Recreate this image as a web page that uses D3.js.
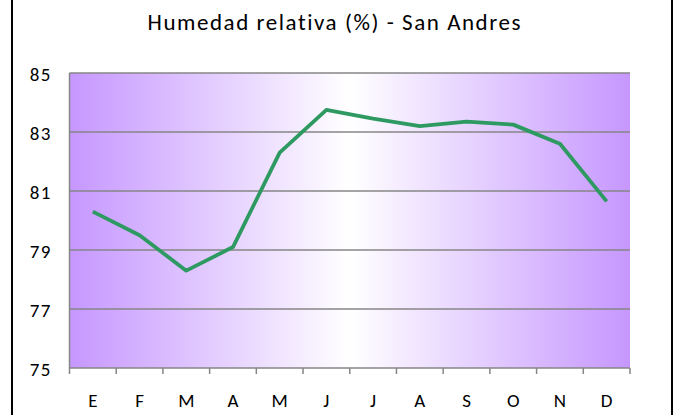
<!DOCTYPE html>
<html><head><meta charset="utf-8">
<script src="https://cdn.jsdelivr.net/npm/d3@7"></script>
<style>body{margin:0;background:#fff}svg{display:block}text{font-variant-ligatures:none;font-feature-settings:"liga" 0}</style>
</head><body>
<script>
const months = ["E","F","M","A","M","J","J","A","S","O","N","D"];
const humidity = [80.3, 79.5, 78.3, 79.1, 82.3, 83.75, 83.45, 83.2, 83.35, 83.25, 82.6, 80.65];
const yTicks = [75, 77, 79, 81, 83, 85];
const title = "Humedad relativa (%) - San Andres";

const W = 683, H = 415;
const m = {left: 69.5, right: 53, top: 73, bottom: 47};
const svg = d3.select("body").append("svg").attr("width", W).attr("height", H);
const font = "Calibri, Carlito, 'Open Sans', sans-serif";

const x = d3.scaleBand().domain(d3.range(months.length)).range([m.left, W - m.right]);
const y = d3.scaleLinear().domain([75, 85]).range([H - m.bottom, m.top]);

const defs = svg.append("defs");
const g = defs.append("linearGradient").attr("id","bg").attr("x1","0").attr("x2","1").attr("y1","0").attr("y2","0");
[[0,"#c697ff"],[0.5,"#ffffff"],[1,"#c697ff"]].forEach(([o,c]) => g.append("stop").attr("offset",o).attr("stop-color",c));

svg.append("line").attr("x1",12).attr("x2",12).attr("y1",0).attr("y2",H).attr("stroke","#000").attr("stroke-width",2);
svg.append("line").attr("x1",672).attr("x2",672).attr("y1",0).attr("y2",H).attr("stroke","#000").attr("stroke-width",2);

svg.append("rect").attr("x", m.left).attr("y", m.top)
  .attr("width", W - m.right - m.left).attr("height", H - m.bottom - m.top)
  .attr("fill","url(#bg)");

svg.append("g").selectAll("line").data(yTicks).join("line")
  .attr("x1", m.left).attr("x2", W - m.right)
  .attr("y1", d => y(d)).attr("y2", d => y(d))
  .attr("stroke","#868686").attr("stroke-width",1.5);

svg.append("line").attr("x1", m.left).attr("x2", m.left).attr("y1", m.top).attr("y2", H - m.bottom)
  .attr("stroke","#868686").attr("stroke-width",1.5);

svg.append("g").selectAll("text").data(yTicks).join("text")
  .attr("x", 52).attr("y", d => y(d) + 1.5).attr("dy","0.35em")
  .attr("text-anchor","end").attr("font-family",font).attr("font-size",19)
  .attr("letter-spacing",1.5).attr("fill","#000")
  .text(d => d);

const xb = d3.range(months.length + 1).map(i => m.left + i * x.step());
svg.append("g").selectAll("line").data(xb).join("line")
  .attr("x1", d => d).attr("x2", d => d).attr("y1", H - m.bottom).attr("y2", H - m.bottom + 6)
  .attr("stroke","#868686").attr("stroke-width",1.5);

svg.append("g").selectAll("text").data(months).join("text")
  .attr("x", (d,i) => x(i) + x.bandwidth()/2).attr("y", 407)
  .attr("text-anchor","middle").attr("font-family",font).attr("font-size",19).attr("fill","#000")
  .text(d => d);

const line = d3.line().x((d,i) => x(i) + x.bandwidth()/2).y(d => y(d));
svg.append("path").datum(humidity).attr("d", line)
  .attr("fill","none").attr("stroke","#2e9a62").attr("stroke-width",3.8).attr("stroke-linejoin","round");

svg.append("text").attr("x", 334).attr("y", 30).attr("text-anchor","middle")
  .attr("font-family",font).attr("font-size",23)
  .attr("textLength",373).attr("lengthAdjust","spacing")
  .attr("fill","#000").text(title);
</script>
</body></html>
